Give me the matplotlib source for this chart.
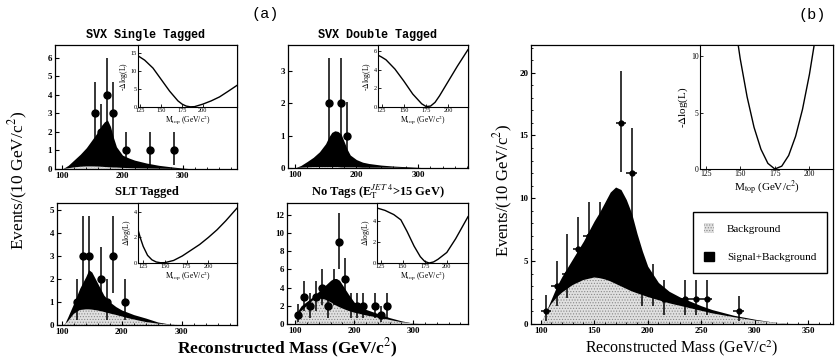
import matplotlib.pyplot as plt
from matplotlib.patches import Patch
from matplotlib.ticker import MultipleLocator

plt.rcParams['font.family'] = ['Liberation Serif', 'DejaVu Serif']
plt.rcParams['mathtext.fontset'] = 'stix'
plt.rcParams['hatch.linewidth'] = 0.5
plt.rcParams['hatch.color'] = '#8c8c8c'

# ---- SVX single tagged ----
svx1_m = [100, 110, 120, 130, 140, 150, 160, 165, 170, 175, 180, 185, 190, 200, 210, 220, 240, 260, 280, 300, 320]
svx1_tot = [0, 0.2, 0.5, 0.8, 1.15, 1.6, 2.05, 2.35, 2.55, 2.65, 2.3, 1.7, 1.2, 0.75, 0.6, 0.48, 0.32, 0.2, 0.12, 0.05, 0]
svx1_bkg = [0, 0.04, 0.09, 0.12, 0.14, 0.14, 0.13, 0.12, 0.11, 0.1, 0.09, 0.08, 0.08, 0.06, 0.05, 0.04, 0.03, 0.02, 0.01, 0, 0]
svx1_x = [155, 165, 175, 185, 205, 245, 285]
svx1_n = [3, 2, 4, 3, 1, 1, 1]
svx1_lo = [1.6, 1.3, 1.9, 1.6, 0.8, 0.8, 0.8]
svx1_hi = [1.7, 1.5, 2.0, 1.7, 1.0, 1.0, 1.0]
svx1_lm = [122, 130, 140, 150, 160, 170, 175, 180, 185, 190, 200, 210, 220, 230, 241]
svx1_ll = [14.2, 13.0, 10.8, 7.6, 4.4, 1.7, 0.8, 0.25, 0.05, 0.1, 0.8, 1.7, 2.8, 4.3, 6.0]

# ---- SVX double tagged ----
svx2_m = [100, 110, 120, 130, 140, 150, 155, 160, 165, 170, 175, 180, 185, 190, 200, 210, 220, 240, 260, 280, 300, 320]
svx2_tot = [0, 0.08, 0.2, 0.33, 0.5, 0.75, 0.95, 1.1, 1.15, 1.13, 1.05, 0.82, 0.58, 0.4, 0.26, 0.18, 0.14, 0.09, 0.06, 0.04, 0.02, 0]
svx2_bkg = [0, 0.01, 0.02, 0.03, 0.03, 0.03, 0.03, 0.03, 0.03, 0.03, 0.02, 0.02, 0.02, 0.02, 0.02, 0.01, 0.01, 0.01, 0.01, 0, 0, 0]
svx2_x = [155, 175, 185]
svx2_n = [2, 2, 1]
svx2_lo = [1.3, 1.3, 0.8]
svx2_hi = [1.4, 1.4, 1.05]
svx2_lm = [121, 125, 130, 140, 150, 160, 170, 175, 180, 185, 190, 200, 210, 222]
svx2_ll = [5.6, 5.4, 5.1, 4.1, 2.8, 1.4, 0.35, 0.05, 0.1, 0.5, 1.2, 2.8, 4.4, 6.2]

# ---- SLT tagged ----
slt_m = [100, 105, 110, 120, 130, 140, 145, 150, 160, 170, 180, 190, 200, 210, 220, 240, 260, 280, 300]
slt_tot = [0, 0.07, 0.35, 0.95, 1.6, 2.1, 2.4, 2.3, 1.8, 1.3, 1.0, 0.8, 0.65, 0.55, 0.45, 0.3, 0.13, 0.04, 0]
slt_bkg = [0, 0.03, 0.15, 0.48, 0.65, 0.68, 0.68, 0.67, 0.63, 0.57, 0.5, 0.44, 0.37, 0.3, 0.24, 0.13, 0.06, 0.02, 0]
slt_x = [125, 135, 145, 165, 175, 185, 205]
slt_n = [1, 3, 3, 2, 1, 3, 1]
slt_lo = [0.8, 1.6, 1.6, 1.3, 0.8, 1.6, 0.8]
slt_hi = [1.0, 1.75, 1.75, 1.4, 1.0, 1.75, 1.0]
slt_lm = [119, 122, 125, 130, 135, 140, 145, 150, 160, 170, 180, 190, 200, 210, 220, 233]
slt_ll = [2.6, 1.9, 1.3, 0.6, 0.25, 0.08, 0.02, 0.03, 0.2, 0.55, 1.0, 1.45, 2.0, 2.6, 3.3, 4.3]

# ---- no tags ----
ntag_m = [100, 105, 110, 120, 130, 135, 140, 150, 160, 165, 170, 175, 180, 190, 200, 210, 220, 240, 260, 280, 300, 320]
ntag_tot = [0, 1.5, 2.0, 2.5, 3.0, 3.3, 3.6, 4.2, 4.8, 5.0, 5.0, 4.8, 4.3, 3.3, 2.4, 1.9, 1.6, 1.15, 0.7, 0.35, 0.1, 0]
ntag_bkg = [0, 1.1, 1.4, 2.0, 2.6, 2.75, 2.8, 2.7, 2.4, 2.2, 2.0, 1.85, 1.7, 1.45, 1.25, 1.1, 0.95, 0.7, 0.45, 0.2, 0.08, 0]
ntag_x = [105, 115, 125, 135, 145, 155, 165, 175, 185, 195, 205, 215, 235, 245, 255]
ntag_n = [1, 3, 2, 3, 4, 2, 4, 9, 5, 2, 2, 2, 2, 1, 2]
ntag_lo = [0.8, 1.6, 1.3, 1.6, 1.9, 1.3, 1.9, 2.9, 2.2, 1.3, 1.3, 1.3, 1.3, 0.8, 1.3]
ntag_hi = [1.2, 1.75, 1.4, 1.75, 2.0, 1.4, 2.0, 3.2, 2.3, 1.4, 1.4, 1.4, 1.4, 1.0, 1.4]
ntag_lm = [122, 130, 140, 148, 155, 163, 170, 175, 180, 185, 190, 200, 210, 224]
ntag_ll = [5.2, 5.0, 4.6, 4.1, 3.0, 1.6, 0.6, 0.15, 0.0, 0.1, 0.35, 1.0, 2.3, 4.4]

# ---- all samples combined ----
all_m = [100, 105, 110, 115, 120, 130, 140, 150, 155, 160, 165, 170, 175, 180, 185, 190, 195, 200,
         210, 220, 230, 240, 250, 260, 280, 300, 320, 335]
all_tot = [0, 1.0, 2.0, 3.0, 3.8, 5.2, 6.6, 8.2, 8.9, 9.7, 10.5, 10.9, 10.7, 9.9, 8.8, 7.2, 5.8, 4.6,
           3.3, 2.6, 2.15, 1.8, 1.45, 1.15, 0.7, 0.38, 0.12, 0]
all_bkg = [0, 0.9, 1.6, 2.1, 2.5, 3.1, 3.5, 3.7, 3.65, 3.55, 3.4, 3.2, 3.0, 2.8, 2.6, 2.45, 2.3, 2.15,
           1.9, 1.65, 1.45, 1.25, 1.05, 0.85, 0.55, 0.28, 0.1, 0]
all_x = [105, 115, 125, 135, 145, 155, 165, 175, 185, 195, 205, 215, 235, 245, 255, 285]
all_n = [1, 3, 4, 6, 7, 7, 6, 16, 12, 3, 3, 2, 2, 2, 2, 1]
all_lo = [0.8, 1.6, 1.9, 2.4, 2.6, 2.6, 2.4, 3.9, 3.5, 1.6, 1.6, 1.3, 1.3, 1.3, 1.3, 0.8]
all_hi = [1.3, 2.0, 3.2, 2.5, 2.7, 2.7, 2.5, 4.1, 3.6, 1.8, 1.8, 1.5, 1.5, 1.5, 1.5, 1.2]
all_lm = [145, 150, 155, 160, 165, 170, 175, 180, 185, 190, 195, 200, 205]
all_ll = [14.0, 9.8, 6.4, 3.7, 1.75, 0.5, 0.0, 0.25, 1.2, 2.9, 5.3, 8.4, 12.2]

mass_label = r'Reconstructed Mass (GeV/c$^2$)'
events_label = r'Events/(10 GeV/c$^2$)'
mtop_label = r'M$_{\rm top}$ (GeV/c$^2$)'

fig = plt.figure(figsize=(8.35, 3.62), dpi=100)
W, H = 835.0, 362.0


def box(left, top, right, bottom):
    return fig.add_axes([left / W, 1 - bottom / H, (right - left) / W, (bottom - top) / H])


def mass_panel(ax, m, tot, bkg, px, pn, lo, hi, xlim, ylim, ystep, xstep=100,
               xerr=None, ms=5.0, fs=6.5):
    ax.fill_between(m, 0, tot, color='black', lw=0)
    ax.fill_between(m, 0, bkg, facecolor='#e0e0e0', edgecolor='#888888',
                    hatch='......', lw=0)
    ax.errorbar(px, pn, yerr=[lo, hi], xerr=xerr, fmt='o', color='black',
                ms=ms, elinewidth=1.1, capsize=0)
    ax.set_xlim(xlim)
    ax.set_ylim(ylim)
    ax.xaxis.set_major_locator(MultipleLocator(xstep))
    ax.xaxis.set_minor_locator(MultipleLocator(xstep / 5))
    ax.yaxis.set_major_locator(MultipleLocator(ystep))
    ax.tick_params(direction='in', labelsize=fs, length=3, width=0.8, pad=2)
    ax.tick_params(which='minor', direction='in', length=1.5, width=0.6)
    for lab in ax.get_xticklabels() + ax.get_yticklabels():
        lab.set_fontweight('bold')
    for s in ax.spines.values():
        s.set_linewidth(0.9)


def like_inset(ax, m, ll, xlim, ylim, ystep, ylab, fs=4.5, lfs=5.5):
    ax.plot(m, ll, color='black', lw=1.0)
    ax.set_xlim(xlim)
    ax.set_ylim(ylim)
    ax.set_xticks([125, 150, 175, 200])
    ax.yaxis.set_major_locator(MultipleLocator(ystep))
    ax.tick_params(direction='in', labelsize=fs, length=2, width=0.6, pad=1)
    ax.set_xlabel(mtop_label, fontsize=lfs, labelpad=0.5)
    ax.set_ylabel(ylab, fontsize=lfs, labelpad=0.5)
    for s in ax.spines.values():
        s.set_linewidth(0.8)


# (a) four samples
ax1 = box(55, 45, 237, 169)
mass_panel(ax1, svx1_m, svx1_tot, svx1_bkg, svx1_x, svx1_n, svx1_lo, svx1_hi,
           (88, 390), (0, 6.7), 1)
ax2 = box(288, 45, 468, 168)
mass_panel(ax2, svx2_m, svx2_tot, svx2_bkg, svx2_x, svx2_n, svx2_lo, svx2_hi,
           (89, 381), (0, 3.8), 1)
ax3 = box(57, 203, 237, 325)
mass_panel(ax3, slt_m, slt_tot, slt_bkg, slt_x, slt_n, slt_lo, slt_hi,
           (92, 392), (0, 5.3), 1)
ax4 = box(287, 203, 468, 324)
mass_panel(ax4, ntag_m, ntag_tot, ntag_bkg, ntag_x, ntag_n, ntag_lo, ntag_hi,
           (86, 393), (0, 13.3), 2)

in1 = box(138, 45, 237, 107)
like_inset(in1, svx1_lm, svx1_ll, (122, 241), (0, 17.2), 5, r'-$\Delta$log(L)')
in2 = box(378, 45, 468, 107)
like_inset(in2, svx2_lm, svx2_ll, (121, 222), (0, 6.7), 2, r'-$\Delta$log(L)')
in3 = box(138, 203, 237, 263)
like_inset(in3, slt_lm, slt_ll, (119, 233), (0, 4.7), 2, r'$\Delta$log(L)')
in4 = box(377, 203, 468, 263)
like_inset(in4, ntag_lm, ntag_ll, (121, 224), (0, 5.7), 2, r'$\Delta$log(L)')

fig.text(146 / W, 1 - 35 / H, 'SVX Single Tagged', family='Liberation Mono',
         weight='bold', fontsize=8.5, ha='center', va='center')
fig.text(378 / W, 1 - 35 / H, 'SVX Double Tagged', family='Liberation Mono',
         weight='bold', fontsize=8.5, ha='center', va='center')
fig.text(147 / W, 1 - 192 / H, 'SLT Tagged', weight='bold', fontsize=9,
         ha='center', va='center')
fig.text(378 / W, 1 - 192 / H,
         r'No Tags (E$_{\rm T}^{JET\ 4}$>15 GeV)', weight='bold', fontsize=9,
         ha='center', va='center')
fig.text(265 / W, 1 - 14 / H, '(a)', family='Liberation Mono', fontsize=11,
         ha='center', va='center')
fig.text(287 / W, 1 - 348 / H, mass_label, weight='bold', fontsize=12.5,
         ha='center', va='center')
fig.text(18 / W, 1 - 180 / H, events_label, fontsize=12.5, rotation=90,
         ha='center', va='center')

# (b) all samples combined
axb = box(531, 45, 833, 324)
mass_panel(axb, all_m, all_tot, all_bkg, all_x, all_n, all_lo, all_hi,
           (91, 373), (0, 22.2), 5, xstep=50, xerr=5, ms=3.5)
axb.yaxis.set_minor_locator(MultipleLocator(1))
axb.xaxis.set_minor_locator(MultipleLocator(10))

inb = box(700, 45, 833, 169)
like_inset(inb, all_lm, all_ll, (121, 217), (0, 11), 5, r'-$\Delta$log(L)',
           fs=5.5, lfs=8)

axb.legend(handles=[Patch(facecolor='#e0e0e0', edgecolor='#888888', hatch='......', lw=0),
                    Patch(facecolor='black', edgecolor='black')],
           labels=['Background', 'Signal+Background'],
           loc='upper right', bbox_to_anchor=(1.0, 0.42), fontsize=8,
           frameon=True, fancybox=False, edgecolor='black', framealpha=1,
           handlelength=0.9, handleheight=0.9, labelspacing=1.6,
           borderpad=1.0, handletextpad=1.2)

fig.text(812 / W, 1 - 15 / H, '(b)', family='Liberation Mono', fontsize=11,
         ha='center', va='center')
fig.text(682 / W, 1 - 348 / H, mass_label, fontsize=11.5,
         ha='center', va='center')
fig.text(503 / W, 1 - 190 / H, events_label, fontsize=12, rotation=90,
         ha='center', va='center')

fig.savefig('out.png', dpi=100)
